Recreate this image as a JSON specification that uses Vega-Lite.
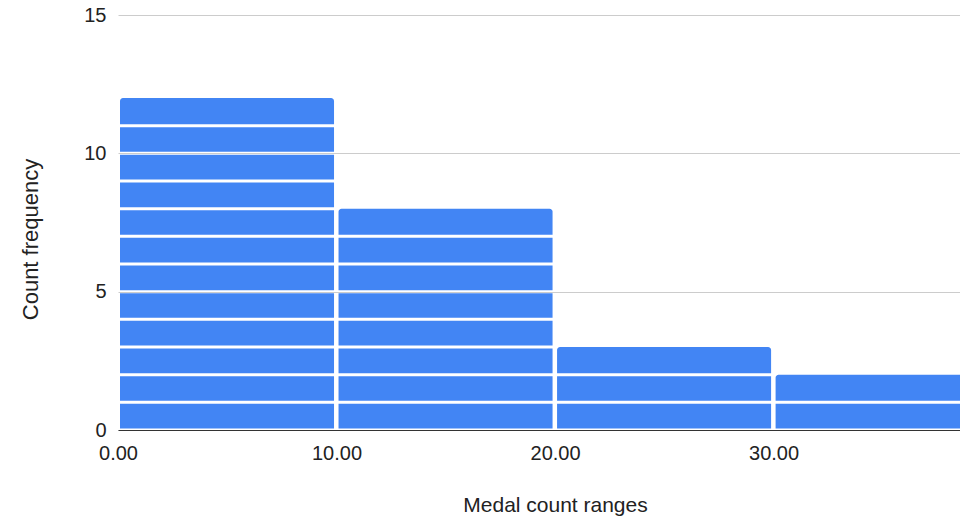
{
  "$schema": "https://vega.github.io/schema/vega-lite/v6.json",
  "width": 842,
  "height": 415,
  "autosize": {"type": "none"},
  "padding": {"left": 118, "top": 15, "right": 0, "bottom": 89},
  "background": "white",
  "config": {"view": {"stroke": null}, "font": "Liberation Sans"},
  "data": {
    "values": [
      {"start": 0, "end": 10, "from": 0, "to": 1},
      {"start": 0, "end": 10, "from": 1, "to": 2},
      {"start": 0, "end": 10, "from": 2, "to": 3},
      {"start": 0, "end": 10, "from": 3, "to": 4},
      {"start": 0, "end": 10, "from": 4, "to": 5},
      {"start": 0, "end": 10, "from": 5, "to": 6},
      {"start": 0, "end": 10, "from": 6, "to": 7},
      {"start": 0, "end": 10, "from": 7, "to": 8},
      {"start": 0, "end": 10, "from": 8, "to": 9},
      {"start": 0, "end": 10, "from": 9, "to": 10},
      {"start": 0, "end": 10, "from": 10, "to": 11},
      {"start": 0, "end": 10, "from": 11, "to": 12},
      {"start": 10, "end": 20, "from": 0, "to": 1},
      {"start": 10, "end": 20, "from": 1, "to": 2},
      {"start": 10, "end": 20, "from": 2, "to": 3},
      {"start": 10, "end": 20, "from": 3, "to": 4},
      {"start": 10, "end": 20, "from": 4, "to": 5},
      {"start": 10, "end": 20, "from": 5, "to": 6},
      {"start": 10, "end": 20, "from": 6, "to": 7},
      {"start": 10, "end": 20, "from": 7, "to": 8},
      {"start": 20, "end": 30, "from": 0, "to": 1},
      {"start": 20, "end": 30, "from": 1, "to": 2},
      {"start": 20, "end": 30, "from": 2, "to": 3},
      {"start": 30, "end": 40, "from": 0, "to": 1},
      {"start": 30, "end": 40, "from": 1, "to": 2}
    ]
  },
  "transform": [
    {"joinaggregate": [{"op": "max", "field": "to", "as": "bin_total"}], "groupby": ["start"]}
  ],
  "encoding": {
    "x": {
      "field": "start",
      "type": "quantitative",
      "title": "Medal count ranges",
      "scale": {"domain": [0, 38.53], "nice": false, "zero": false},
      "axis": {
        "values": [0, 10, 20, 30],
        "format": ".2f",
        "grid": false,
        "ticks": false,
        "domainColor": "#333333",
        "domainWidth": 1,
        "labelFontSize": 20,
        "labelColor": "#222222",
        "labelPadding": 13,
        "labelFlush": false,
        "titleFontSize": 21,
        "titleFontWeight": "normal",
        "titleColor": "#222222",
        "titlePadding": 31,
        "titleX": 437
      }
    },
    "x2": {"field": "end"},
    "y": {
      "field": "to",
      "type": "quantitative",
      "title": "Count frequency",
      "scale": {"domain": [0, 15], "nice": false},
      "axis": {
        "values": [0, 5, 10, 15],
        "domain": false,
        "ticks": false,
        "gridColor": "#cccccc",
        "gridWidth": 1,
        "labelFontSize": 20,
        "labelColor": "#222222",
        "labelPadding": 12,
        "titleFontSize": 22,
        "titleFontWeight": "normal",
        "titleColor": "#222222",
        "titlePadding": 41,
        "titleY": 224
      }
    },
    "y2": {"field": "from"}
  },
  "layer": [
    {
      "transform": [{"filter": "datum.to < datum.bin_total"}],
      "mark": {"type": "rect", "color": "#4285f4", "xOffset": 2, "x2Offset": -2.5, "yOffset": 1.5, "y2Offset": -1.5, "clip": true}
    },
    {
      "transform": [{"filter": "datum.to == datum.bin_total"}],
      "mark": {"type": "rect", "color": "#4285f4", "xOffset": 2, "x2Offset": -2.5, "yOffset": 0, "y2Offset": -1.5, "cornerRadiusTopLeft": 3, "cornerRadiusTopRight": 3, "clip": true}
    }
  ]
}
